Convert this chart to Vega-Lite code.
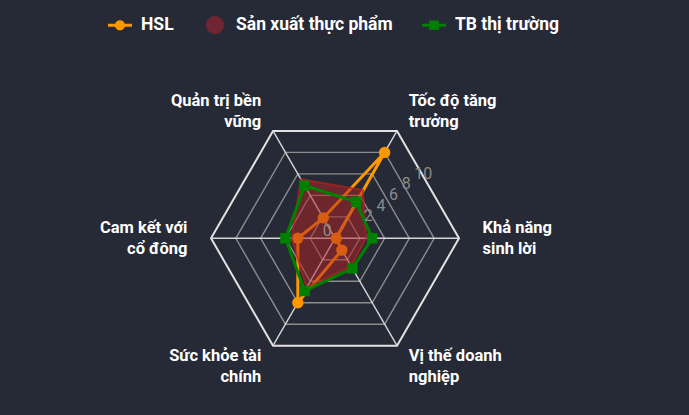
{
  "$schema": "https://vega.github.io/schema/vega-lite/v6.json",
  "width": 689,
  "height": 415,
  "padding": 0,
  "autosize": {"type": "none"},
  "background": "#262a36",
  "config": {"view": {"stroke": null}, "font": "Roboto"},
  "datasets": {
    "axes": [
      {"axis": "Khả năng sinh lời", "label": "Khả năng\nsinh lời"},
      {"axis": "Tốc độ tăng trưởng", "label": "Tốc độ tăng\ntrưởng"},
      {"axis": "Quản trị bền vững", "label": "Quản trị bền\nvững"},
      {"axis": "Cam kết với cổ đông", "label": "Cam kết với\ncổ đông"},
      {"axis": "Sức khỏe tài chính", "label": "Sức khỏe tài\nchính"},
      {"axis": "Vị thế doanh nghiệp", "label": "Vị thế doanh\nnghiệp"}
    ],
    "rings": [
      {"level": 2, "axis": ["Khả năng sinh lời", "Tốc độ tăng trưởng", "Quản trị bền vững", "Cam kết với cổ đông", "Sức khỏe tài chính", "Vị thế doanh nghiệp"]},
      {"level": 4, "axis": ["Khả năng sinh lời", "Tốc độ tăng trưởng", "Quản trị bền vững", "Cam kết với cổ đông", "Sức khỏe tài chính", "Vị thế doanh nghiệp"]},
      {"level": 6, "axis": ["Khả năng sinh lời", "Tốc độ tăng trưởng", "Quản trị bền vững", "Cam kết với cổ đông", "Sức khỏe tài chính", "Vị thế doanh nghiệp"]},
      {"level": 8, "axis": ["Khả năng sinh lời", "Tốc độ tăng trưởng", "Quản trị bền vững", "Cam kết với cổ đông", "Sức khỏe tài chính", "Vị thế doanh nghiệp"]},
      {"level": 10, "axis": ["Khả năng sinh lời", "Tốc độ tăng trưởng", "Quản trị bền vững", "Cam kết với cổ đông", "Sức khỏe tài chính", "Vị thế doanh nghiệp"]}
    ],
    "scores": [
      {"series": "HSL", "axis": "Khả năng sinh lời", "value": 0.1},
      {"series": "HSL", "axis": "Tốc độ tăng trưởng", "value": 8.0},
      {"series": "HSL", "axis": "Quản trị bền vững", "value": 1.9},
      {"series": "HSL", "axis": "Cam kết với cổ đông", "value": 3.0},
      {"series": "HSL", "axis": "Sức khỏe tài chính", "value": 6.0},
      {"series": "HSL", "axis": "Vị thế doanh nghiệp", "value": 1.1},
      {"series": "Sản xuất thực phẩm", "axis": "Khả năng sinh lời", "value": 2.5},
      {"series": "Sản xuất thực phẩm", "axis": "Tốc độ tăng trưởng", "value": 4.5},
      {"series": "Sản xuất thực phẩm", "axis": "Quản trị bền vững", "value": 5.5},
      {"series": "Sản xuất thực phẩm", "axis": "Cam kết với cổ đông", "value": 3.5},
      {"series": "Sản xuất thực phẩm", "axis": "Sức khỏe tài chính", "value": 4.6},
      {"series": "Sản xuất thực phẩm", "axis": "Vị thế doanh nghiệp", "value": 2.6},
      {"series": "TB thị trường", "axis": "Khả năng sinh lời", "value": 3.0},
      {"series": "TB thị trường", "axis": "Tốc độ tăng trưởng", "value": 3.4},
      {"series": "TB thị trường", "axis": "Quản trị bền vững", "value": 4.9},
      {"series": "TB thị trường", "axis": "Cam kết với cổ đông", "value": 4.0},
      {"series": "TB thị trường", "axis": "Sức khỏe tài chính", "value": 4.9},
      {"series": "TB thị trường", "axis": "Vị thế doanh nghiệp", "value": 2.8}
    ],
    "ticks": [{"tick": 0}, {"tick": 2}, {"tick": 4}, {"tick": 6}, {"tick": 8}, {"tick": 10}]
  },
  "layer": [
    {
      "data": {"name": "rings"},
      "transform": [
        {"flatten": ["axis"]},
        {"calculate": "indexof(['Khả năng sinh lời','Tốc độ tăng trưởng','Quản trị bền vững','Cam kết với cổ đông','Sức khỏe tài chính','Vị thế doanh nghiệp'], datum.axis) * PI / 3", "as": "a"},
        {"calculate": "datum.level * cos(datum.a)", "as": "x"},
        {"calculate": "datum.level * sin(datum.a)", "as": "y"}
      ],
      "mark": {"type": "line", "interpolate": "linear-closed"},
      "encoding": {
        "x": {"field": "x", "type": "quantitative", "scale": {"domain": [-27.02, 28.55], "nice": false, "zero": false}, "axis": null},
        "y": {"field": "y", "type": "quantitative", "scale": {"domain": [-14.25, 19.22], "nice": false, "zero": false}, "axis": null},
        "order": {"field": "a", "type": "quantitative"},
        "detail": {"field": "level", "type": "nominal"},
        "stroke": {"condition": {"test": "datum.level == 10", "value": "#e2e2e2"}, "value": "#8c8c8c"},
        "strokeWidth": {"condition": {"test": "datum.level == 10", "value": 2}, "value": 1.4}
      }
    },
    {
      "data": {"name": "axes"},
      "transform": [
        {"calculate": "indexof(['Khả năng sinh lời','Tốc độ tăng trưởng','Quản trị bền vững','Cam kết với cổ đông','Sức khỏe tài chính','Vị thế doanh nghiệp'], datum.axis) * PI / 3", "as": "a"},
        {"calculate": "10 * cos(datum.a)", "as": "x"},
        {"calculate": "10 * sin(datum.a)", "as": "y"}
      ],
      "mark": {"type": "rule", "stroke": "#d6d6d6", "strokeWidth": 1.4},
      "encoding": {
        "x": {"field": "x", "type": "quantitative", "scale": {"domain": [-27.02, 28.55], "nice": false, "zero": false}, "axis": null},
        "y": {"field": "y", "type": "quantitative", "scale": {"domain": [-14.25, 19.22], "nice": false, "zero": false}, "axis": null},
        "x2": {"datum": 0},
        "y2": {"datum": 0}
      }
    },
    {
      "data": {"name": "scores"},
      "transform": [
        {"filter": "datum.series == 'HSL'"},
        {"calculate": "indexof(['Khả năng sinh lời','Tốc độ tăng trưởng','Quản trị bền vững','Cam kết với cổ đông','Sức khỏe tài chính','Vị thế doanh nghiệp'], datum.axis) * PI / 3", "as": "a"},
        {"calculate": "datum.value * cos(datum.a)", "as": "x"},
        {"calculate": "datum.value * sin(datum.a)", "as": "y"}
      ],
      "mark": {"type": "line", "interpolate": "linear-closed", "stroke": "#ff9800", "strokeWidth": 3},
      "encoding": {
        "x": {"field": "x", "type": "quantitative"},
        "y": {"field": "y", "type": "quantitative"},
        "order": {"field": "a", "type": "quantitative"}
      }
    },
    {
      "data": {"name": "scores"},
      "transform": [
        {"filter": "datum.series == 'HSL'"},
        {"calculate": "indexof(['Khả năng sinh lời','Tốc độ tăng trưởng','Quản trị bền vững','Cam kết với cổ đông','Sức khỏe tài chính','Vị thế doanh nghiệp'], datum.axis) * PI / 3", "as": "a"},
        {"calculate": "datum.value * cos(datum.a)", "as": "x"},
        {"calculate": "datum.value * sin(datum.a)", "as": "y"}
      ],
      "mark": {"type": "point", "shape": "circle", "filled": true, "size": 130, "opacity": 1},
      "encoding": {
        "x": {"field": "x", "type": "quantitative"},
        "y": {"field": "y", "type": "quantitative"},
        "color": {
          "field": "series",
          "type": "nominal",
          "scale": {"domain": ["HSL", "Sản xuất thực phẩm", "TB thị trường"], "range": ["#ff9800", "#6f2632", "#008000"]},
          "legend": {
            "orient": "none",
            "legendX": 108,
            "legendY": 13,
            "direction": "horizontal",
            "title": null,
            "padding": 0,
            "labelColor": "#ffffff",
            "labelFont": "Roboto",
            "labelFontSize": 17.5,
            "labelFontWeight": "bold",
            "labelLimit": 400,
            "labelOffset": 9,
            "columnPadding": 29,
            "symbolSize": 576,
            "symbolStrokeWidth": 0,
            "symbolOpacity": 1,
            "encode": {
              "symbols": {
                "update": {
                  "shape": {"signal": "datum.value === 'HSL' ? 'M-1,-0.13H1V0.13H-1Z M0.42,0A0.42,0.42 0 1,1 -0.42,0A0.42,0.42 0 1,1 0.42,0Z' : (datum.value === 'TB thị trường' ? 'M-1,-0.13H1V0.13H-1Z M-0.4,-0.4H0.4V0.4H-0.4Z' : 'M0.75,0A0.75,0.75 0 1,1 -0.75,0A0.75,0.75 0 1,1 0.75,0Z')"}
                }
              }
            }
          }
        }
      }
    },
    {
      "data": {"name": "scores"},
      "transform": [
        {"filter": "datum.series == 'Sản xuất thực phẩm'"},
        {"calculate": "indexof(['Khả năng sinh lời','Tốc độ tăng trưởng','Quản trị bền vững','Cam kết với cổ đông','Sức khỏe tài chính','Vị thế doanh nghiệp'], datum.axis) * PI / 3", "as": "a"},
        {"calculate": "datum.value * cos(datum.a)", "as": "x"},
        {"calculate": "datum.value * sin(datum.a)", "as": "y"}
      ],
      "mark": {"type": "line", "interpolate": "linear-closed", "stroke": "#b22222", "strokeOpacity": 0.7, "strokeWidth": 2, "fill": "#b22222", "fillOpacity": 0.5},
      "encoding": {
        "x": {"field": "x", "type": "quantitative"},
        "y": {"field": "y", "type": "quantitative"},
        "order": {"field": "a", "type": "quantitative"}
      }
    },
    {
      "data": {"name": "scores"},
      "transform": [
        {"filter": "datum.series == 'TB thị trường'"},
        {"calculate": "indexof(['Khả năng sinh lời','Tốc độ tăng trưởng','Quản trị bền vững','Cam kết với cổ đông','Sức khỏe tài chính','Vị thế doanh nghiệp'], datum.axis) * PI / 3", "as": "a"},
        {"calculate": "datum.value * cos(datum.a)", "as": "x"},
        {"calculate": "datum.value * sin(datum.a)", "as": "y"}
      ],
      "mark": {"type": "line", "interpolate": "linear-closed", "stroke": "#008000", "strokeWidth": 3},
      "encoding": {
        "x": {"field": "x", "type": "quantitative"},
        "y": {"field": "y", "type": "quantitative"},
        "order": {"field": "a", "type": "quantitative"}
      }
    },
    {
      "data": {"name": "scores"},
      "transform": [
        {"filter": "datum.series == 'TB thị trường'"},
        {"calculate": "indexof(['Khả năng sinh lời','Tốc độ tăng trưởng','Quản trị bền vững','Cam kết với cổ đông','Sức khỏe tài chính','Vị thế doanh nghiệp'], datum.axis) * PI / 3", "as": "a"},
        {"calculate": "datum.value * cos(datum.a)", "as": "x"},
        {"calculate": "datum.value * sin(datum.a)", "as": "y"}
      ],
      "mark": {"type": "point", "shape": "square", "filled": true, "size": 110, "opacity": 1},
      "encoding": {
        "x": {"field": "x", "type": "quantitative"},
        "y": {"field": "y", "type": "quantitative"},
        "color": {"field": "series", "type": "nominal"}
      }
    },
    {
      "data": {"name": "axes"},
      "transform": [
        {"calculate": "indexof(['Khả năng sinh lời','Tốc độ tăng trưởng','Quản trị bền vững','Cam kết với cổ đông','Sức khỏe tài chính','Vị thế doanh nghiệp'], datum.axis) * PI / 3", "as": "a"},
        {"filter": "cos(datum.a) > 0.1"},
        {"calculate": "11.9 * cos(datum.a)", "as": "x"},
        {"calculate": "11.9 * sin(datum.a)", "as": "y"}
      ],
      "mark": {"type": "text", "align": "left", "baseline": "middle", "dy": -10, "lineBreak": "\n", "lineHeight": 21, "font": "Roboto", "fontSize": 16.5, "fontWeight": "bold", "color": "#ffffff"},
      "encoding": {
        "x": {"field": "x", "type": "quantitative"},
        "y": {"field": "y", "type": "quantitative"},
        "text": {"field": "label", "type": "nominal"}
      }
    },
    {
      "data": {"name": "axes"},
      "transform": [
        {"calculate": "indexof(['Khả năng sinh lời','Tốc độ tăng trưởng','Quản trị bền vững','Cam kết với cổ đông','Sức khỏe tài chính','Vị thế doanh nghiệp'], datum.axis) * PI / 3", "as": "a"},
        {"filter": "cos(datum.a) < -0.1"},
        {"calculate": "11.9 * cos(datum.a)", "as": "x"},
        {"calculate": "11.9 * sin(datum.a)", "as": "y"}
      ],
      "mark": {"type": "text", "align": "right", "baseline": "middle", "dy": -10, "lineBreak": "\n", "lineHeight": 21, "font": "Roboto", "fontSize": 16.5, "fontWeight": "bold", "color": "#ffffff"},
      "encoding": {
        "x": {"field": "x", "type": "quantitative"},
        "y": {"field": "y", "type": "quantitative"},
        "text": {"field": "label", "type": "nominal"}
      }
    },
    {
      "data": {"name": "ticks"},
      "transform": [
        {"calculate": "datum.tick == 0 ? -0.98 : 1.31 + 0.508 * datum.tick", "as": "x"},
        {"calculate": "datum.tick == 0 ? 0.61 : 0.91 + 0.43 * datum.tick", "as": "y"}
      ],
      "mark": {"type": "text", "align": "left", "baseline": "middle", "font": "Roboto", "fontSize": 16, "color": "#8a8a8a"},
      "encoding": {
        "x": {"field": "x", "type": "quantitative"},
        "y": {"field": "y", "type": "quantitative"},
        "text": {"field": "tick", "type": "nominal"}
      }
    }
  ]
}
